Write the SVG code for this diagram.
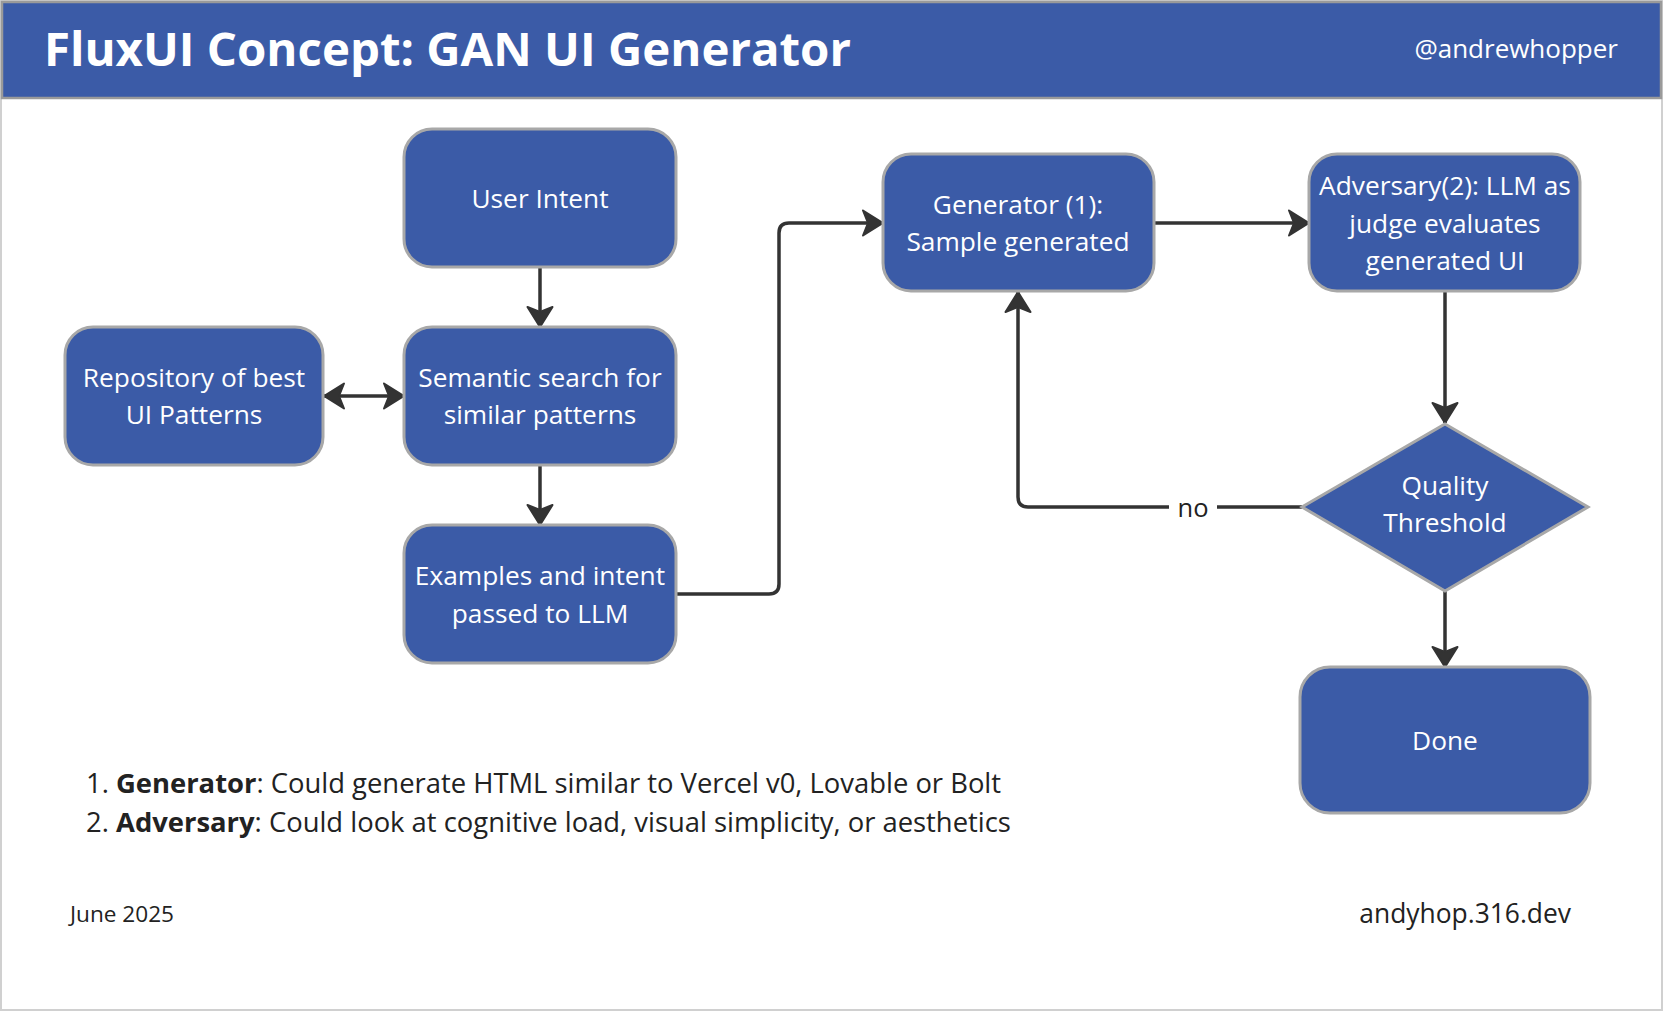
<svg xmlns="http://www.w3.org/2000/svg" width="1666" height="1014" viewBox="0 0 1666 1014">
<style>
.node{fill:#3B5BA7;stroke:#A8A8A8;stroke-width:3}
.nt{font-family:"Open Sans","Noto Sans",sans-serif;font-size:26.3px;fill:#ffffff;text-anchor:middle}
.conn{fill:none;stroke:#333333;stroke-width:3.5}
.body{font-family:"Open Sans","Noto Sans",sans-serif;fill:#222222}
</style>
<defs>
<marker id="ah" viewBox="0 0 22 28" refX="21" refY="14" markerWidth="22" markerHeight="28" markerUnits="userSpaceOnUse" orient="auto-start-reverse">
<path d="M1,1.5 L21,14 L1,26.5 L6,14 Z" fill="#333333" stroke="#333333" stroke-width="2" stroke-linejoin="round"/>
</marker>
</defs>
<rect x="0" y="0" width="1666" height="1014" fill="#ffffff"/>
<rect x="1" y="1" width="1661" height="1009" fill="#ffffff" stroke="#D0D0D0" stroke-width="2"/>
<g id="header">
<rect x="2" y="2" width="1659" height="96" fill="#3B5BA7" stroke="#9A9A9A" stroke-width="2.5"/>
<text x="44" y="66" font-family="'Open Sans','Noto Sans',sans-serif" font-size="47.4" font-weight="bold" fill="#ffffff">FluxUI Concept: GAN UI Generator</text>
<text x="1618" y="58" font-family="'Open Sans','Noto Sans',sans-serif" font-size="26" fill="#ffffff" text-anchor="end">@andrewhopper</text>
</g>
<g id="connectors">
<path class="conn" d="M540,268 V327" marker-end="url(#ah)"/>
<path class="conn" d="M540,466 V525" marker-end="url(#ah)"/>
<path class="conn" d="M324,396 H404" marker-start="url(#ah)" marker-end="url(#ah)"/>
<path class="conn" d="M677,594 H769 Q779,594 779,584 V233 Q779,223 789,223 H883" marker-end="url(#ah)"/>
<path class="conn" d="M1155,223 H1309" marker-end="url(#ah)"/>
<path class="conn" d="M1445,292 V423" marker-end="url(#ah)"/>
<path class="conn" d="M1445,591 V667" marker-end="url(#ah)"/>
<path class="conn" d="M1302,507 H1028 Q1018,507 1018,497 V292" marker-end="url(#ah)"/>
<rect x="1169" y="492" width="48" height="30" fill="#ffffff"/>
<text x="1193" y="517" class="body" font-size="25.5" text-anchor="middle">no</text>
</g>
<g id="user-intent">
<rect class="node" x="404" y="129" width="272" height="138" rx="28"/>
<text class="nt" x="540" y="208">User Intent</text>
</g>
<g id="repository">
<rect class="node" x="65" y="327" width="258" height="138" rx="28"/>
<text class="nt" x="194" y="387">Repository of best</text>
<text class="nt" x="194" y="424">UI Patterns</text>
</g>
<g id="semantic-search">
<rect class="node" x="404" y="327" width="272" height="138" rx="28"/>
<text class="nt" x="540" y="387">Semantic search for</text>
<text class="nt" x="540" y="424">similar patterns</text>
</g>
<g id="examples">
<rect class="node" x="404" y="525" width="272" height="138" rx="28"/>
<text class="nt" x="540" y="585">Examples and intent</text>
<text class="nt" x="540" y="623">passed to LLM</text>
</g>
<g id="generator">
<rect class="node" x="883" y="154" width="271" height="137" rx="28"/>
<text class="nt" x="1018" y="214">Generator (1):</text>
<text class="nt" x="1018" y="251">Sample generated</text>
</g>
<g id="adversary">
<rect class="node" x="1309" y="154" width="271" height="137" rx="28"/>
<text class="nt" x="1445" y="195">Adversary(2): LLM as</text>
<text class="nt" x="1445" y="233">judge evaluates</text>
<text class="nt" x="1445" y="270">generated UI</text>
</g>
<g id="quality-threshold">
<polygon class="node" points="1445,424 1588,507 1445,591 1302,507"/>
<text class="nt" x="1445" y="495">Quality</text>
<text class="nt" x="1445" y="532">Threshold</text>
</g>
<g id="done">
<rect class="node" x="1300" y="667" width="290" height="146" rx="30"/>
<text class="nt" x="1445" y="750">Done</text>
</g>
<g id="notes">
<text class="body" x="86" y="793" font-size="27.4">1. <tspan font-weight="bold">Generator</tspan>: Could generate HTML similar to Vercel v0, Lovable or Bolt</text>
<text class="body" x="86" y="832" font-size="27.4">2. <tspan font-weight="bold">Adversary</tspan>: Could look at cognitive load, visual simplicity, or aesthetics</text>
<text class="body" x="70" y="922" font-size="22.6">June 2025</text>
<text class="body" x="1571" y="923" font-size="26.4" text-anchor="end">andyhop.316.dev</text>
</g>
</svg>
